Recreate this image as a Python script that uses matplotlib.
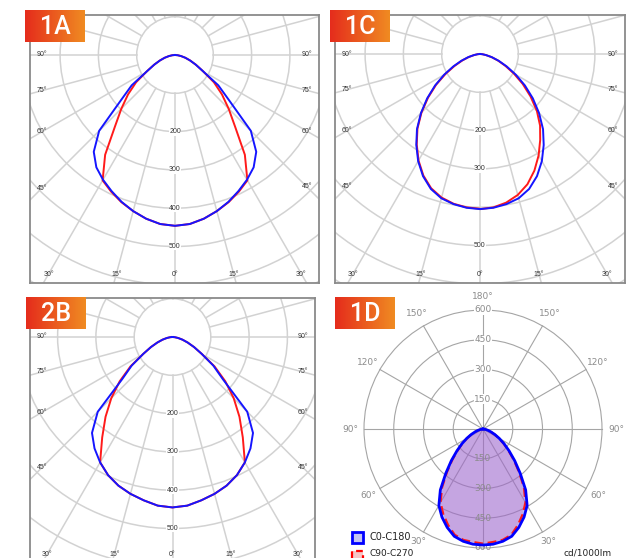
import numpy as np
import matplotlib.pyplot as plt
from matplotlib.colors import LinearSegmentedColormap
from matplotlib.patches import Circle, Rectangle

W, H = 630, 558

# gamma angles of the intensity tables, degrees from nadir
gamma = [0, 5, 10, 15, 20, 25, 30, 35, 40, 45, 50, 55, 60, 65, 70, 75, 80, 85, 90]

# 1A (cd/klm)
a1_c0 = [446, 443, 434, 422, 408, 392, 376, 358, 330, 280, 185, 138, 84, 60, 42, 28, 16, 7, 0]
a1_c90 = [446, 443, 434, 422, 409, 394, 378, 318, 244, 198, 160, 124, 84, 60, 42, 28, 16, 7, 0]

# 1C
c1_c0 = [405, 403, 398, 390, 375, 352, 323, 290, 256, 218, 180, 143, 108, 77, 52, 32, 16, 6, 0]
c1_c90_left = [404, 402, 397, 388, 373, 350, 321, 288, 254, 216, 177, 140, 104, 73, 49, 30, 15, 6, 0]
c1_c90_right = [405, 402, 394, 381, 362, 336, 306, 274, 244, 210, 172, 136, 102, 73, 50, 31, 15, 6, 0]

# 2B
b2_c0 = [445, 442, 433, 424, 413, 398, 378, 355, 327, 276, 172, 130, 88, 62, 42, 27, 15, 6, 0]
b2_c90 = [445, 442, 433, 424, 413, 398, 378, 320, 272, 226, 180, 134, 88, 62, 42, 27, 15, 6, 0]

# 1D
d1_c0 = [585, 583, 575, 560, 528, 490, 445, 375, 292, 226, 172, 130, 95, 66, 43, 26, 13, 4, 0]
d1_c90 = [578, 572, 568, 552, 515, 474, 428, 360, 282, 218, 166, 126, 92, 64, 42, 25, 12, 4, 0]

ring_ticks = [200, 300, 400, 500]
polar_ticks = [150, 300, 450, 600]

BLUE = '#1515ff'
RED = '#ff1a1a'
GRID = '#d2d2d2'
SCALE = 0.383  # px per cd in the zoomed panels

fig = plt.figure(figsize=(W / 100, H / 100), dpi=100)


def px_axes(l, t, r, b):
    return fig.add_axes([l / W, 1 - b / H, (r - l) / W, (b - t) / H])


def outline(left, right):
    g = np.radians(gamma)
    rl = np.array(left, float)
    rr = np.array(right, float)
    x = np.concatenate([-rl[::-1] * np.sin(g[::-1]), rr * np.sin(g)])
    y = np.concatenate([-rl[::-1] * np.cos(g[::-1]), -rr * np.cos(g)])
    return x, y


def zoomed_panel(box, centre, curves, rings):
    l, t, r, b = box
    cx, cy = centre
    ax = px_axes(l, t, r, b)
    ax.set_xlim((l - cx) / SCALE, (r - cx) / SCALE)
    ax.set_ylim((cy - b) / SCALE, (cy - t) / SCALE)
    ax.set_xticks([])
    ax.set_yticks([])
    for s in ax.spines.values():
        s.set_color('#8a8a8a')
        s.set_linewidth(1.3)
    for rad in range(100, 900, 100):
        ax.add_patch(Circle((0, 0), rad, fill=False, ec=GRID, lw=1.1, zorder=1))
    for a in range(0, 360, 15):
        s, c = np.sin(np.radians(a)), np.cos(np.radians(a))
        ax.plot([100 * s, 1200 * s], [-100 * c, -1200 * c], color=GRID, lw=1.1, zorder=1)
    for rad in rings:
        ax.text(0, -rad, str(rad), ha='center', va='center', fontsize=5,
                color='#333333', family='Liberation Sans',
                bbox=dict(fc='white', ec='none', pad=0.3), zorder=2)
    # angle labels where each 15 deg ray meets the (inset) frame
    for a in range(0, 106, 15):
        for side in (1, -1):
            if a == 0 and side == -1:
                continue
            dx = side * np.sin(np.radians(a))
            dy = np.cos(np.radians(a))
            hits = []
            if dx > 1e-9:
                hits.append((((r - 12) - cx) / dx, 'side'))
            if dx < -1e-9:
                hits.append((((l + 12) - cx) / dx, 'side'))
            if dy > 1e-9:
                hits.append((((b - 9) - cy) / dy, 'bottom'))
            if dy < -1e-9:
                hits.append((((t + 9) - cy) / dy, 'top'))
            k, where = min(hits)
            if where == 'top':
                continue
            px = cx + k * dx
            py = cy + k * dy
            ax.text((px - cx) / SCALE, (cy - py) / SCALE, f'{a}°', ha='center', va='center',
                    fontsize=5, color='#333333', family='Liberation Sans', zorder=2)
    for left, right, col in curves:
        x, y = outline(left, right)
        ax.plot(x, y, color=col, lw=1.4, zorder=3, solid_joinstyle='round')
    return ax


zoomed_panel((30, 15, 319, 283), (175, 55),
             [(a1_c90, a1_c90, RED), (a1_c0, a1_c0, BLUE)], ring_ticks)
zoomed_panel((335, 15, 625, 283), (480, 54),
             [(c1_c90_left, c1_c90_right, RED), (c1_c0, c1_c0, BLUE)], [200, 300, 500])
zoomed_panel((30, 298, 315, 563), (172.5, 337),
             [(b2_c90, b2_c90, RED), (b2_c0, b2_c0, BLUE)], ring_ticks)

# 1D: full polar diagram
l, t, r, b = 330, 290, 630, 558
cx, cy = 483, 429
sc = 119 / 600
ax = px_axes(l, t, r, b)
ax.set_xlim((l - cx) / sc, (r - cx) / sc)
ax.set_ylim((cy - b) / sc, (cy - t) / sc)
ax.axis('off')
PG = '#a5a5a5'
for rad in polar_ticks:
    ax.add_patch(Circle((0, 0), rad, fill=False, ec=PG, lw=0.8, zorder=1))
for a in range(0, 360, 30):
    s, c = np.sin(np.radians(a)), np.cos(np.radians(a))
    ax.plot([0, 600 * s], [0, -600 * c], color=PG, lw=0.8, zorder=1)

xb, yb = outline(d1_c0, d1_c0)
xr, yr = outline(d1_c90, d1_c90)
ax.fill(xb, yb, color=(0.42, 0.40, 0.90), alpha=0.40, lw=0, zorder=2)
ax.fill(xr, yr, color=(0.80, 0.40, 0.70), alpha=0.30, lw=0, zorder=2)
for rad in polar_ticks:
    ax.text(0, rad, str(rad), ha='center', va='center', fontsize=6.5, color='#8c8c8c',
            bbox=dict(fc='white', ec='none', pad=0.2), zorder=3)
    ax.text(0, -rad, str(rad), ha='center', va='center', fontsize=6.5, color='#8c8c8c',
            zorder=3)
ax.plot(xr, yr, color=RED, lw=1.6, dashes=(4, 2), zorder=4)
ax.plot(xb, yb, color='#0000ff', lw=2.0, zorder=5)
for a in range(30, 181, 30):
    for side in ((1, -1) if a < 180 else (1,)):
        s, c = side * np.sin(np.radians(a)), np.cos(np.radians(a))
        rad = 655 if a == 30 else 670
        ax.text(rad * s, -rad * c, f'{a}°', ha='center', va='center', fontsize=6.5,
                color='#8c8c8c', zorder=3)

# legend of 1D
def fx(x):
    return x / W


def fy(y):
    return 1 - y / H


fig.patches.append(Rectangle((fx(352), fy(543)), 11 / W, 11 / H, transform=fig.transFigure,
                             fc='#c4c4f2', ec='#0000ff', lw=2))
fig.patches.append(Rectangle((fx(352), fy(562)), 11 / W, 11 / H, transform=fig.transFigure,
                             fc='#f6c6c6', ec='#ff0000', lw=1.6, ls=(0, (3, 2))))
fig.text(fx(370), fy(537), 'C0-C180', fontsize=7, color='#222222', va='center')
fig.text(fx(370), fy(553.5), 'C90-C270', fontsize=6.5, color='#222222', va='center')
fig.text(fx(563), fy(553.5), 'cd/1000lm', fontsize=6.5, color='#222222', va='center')

# orange panel tags
tag_cmap = LinearSegmentedColormap.from_list('tag', ['#e52c1c', '#f08b22'])
grad = np.linspace(0, 1, 256).reshape(1, -1)
for name, (tl, tt) in {'1A': (25, 10), '1C': (330, 10), '2B': (26, 297), '1D': (335, 297)}.items():
    tax = px_axes(tl, tt, tl + 60, tt + 32)
    tax.imshow(grad, aspect='auto', cmap=tag_cmap, extent=[0, 1, 0, 1])
    tax.text(0.5, 0.48, name, color='white', ha='center', va='center', fontsize=18,
             family='Roboto', fontweight='medium', transform=tax.transAxes)
    tax.axis('off')

fig.savefig('out.png', dpi=100)
